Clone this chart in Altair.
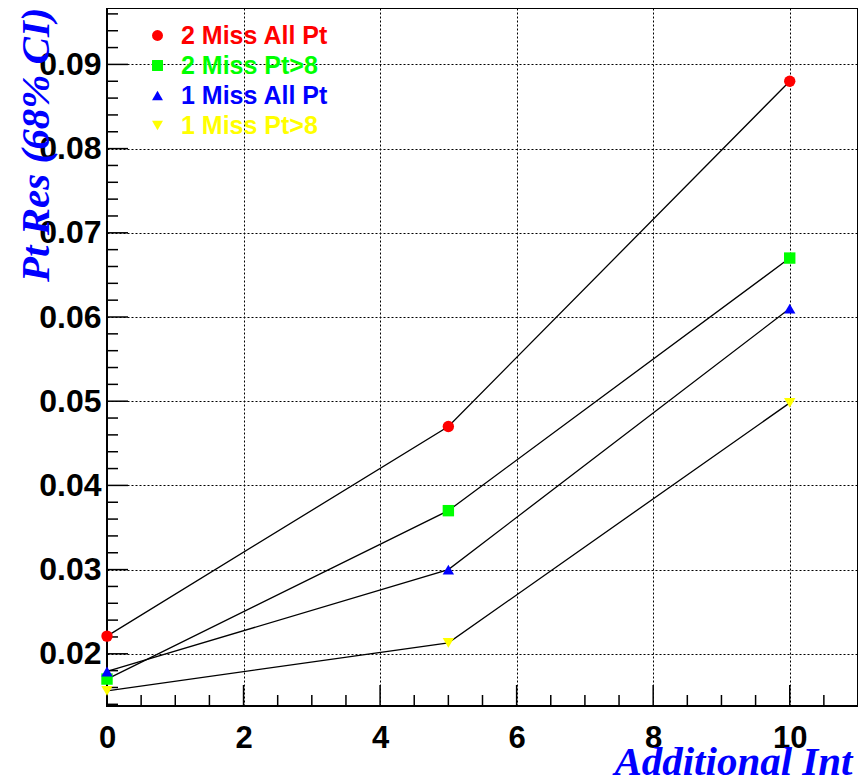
import altair as alt
import pandas as pd

series = ["2 Miss All Pt", "2 Miss Pt>8", "1 Miss All Pt", "1 Miss Pt>8"]
colors = ["#ff0000", "#00ff00", "#0000ff", "#ffff00"]
shapes = ["circle", "square", "triangle-up", "triangle-down"]
x_vals = [0, 5, 10]
res_2miss_all = [0.0221, 0.0470, 0.0880]
res_2miss_pt8 = [0.0170, 0.0370, 0.0670]
res_1miss_all = [0.0179, 0.0300, 0.0610]
res_1miss_pt8 = [0.0156, 0.0213, 0.0498]

x_major = [0, 2, 4, 6, 8, 10]
x_minor = [0.5, 1, 1.5, 2.5, 3, 3.5, 4.5, 5, 5.5, 6.5, 7, 7.5, 8.5, 9, 9.5, 10.5]
y_major = [0.02, 0.03, 0.04, 0.05, 0.06, 0.07, 0.08, 0.09]
y_minor = [0.014, 0.016, 0.018, 0.022, 0.024, 0.026, 0.028, 0.032, 0.034, 0.036,
           0.038, 0.042, 0.044, 0.046, 0.048, 0.052, 0.054, 0.056, 0.058, 0.062,
           0.064, 0.066, 0.068, 0.072, 0.074, 0.076, 0.078, 0.082, 0.084, 0.086,
           0.088, 0.092, 0.094, 0.096]

W, H = 751, 698
PAD_L = 99
XDOM = [0, 11]
YDOM = [0.0138, 0.0967]

rows = []
for name, vals in zip(series, [res_2miss_all, res_2miss_pt8, res_1miss_all, res_1miss_pt8]):
    for xv, yv in zip(x_vals, vals):
        rows.append({"series": name, "x": xv, "y": yv})
df = pd.DataFrame(rows)

xscale = alt.Scale(domain=XDOM, nice=False, zero=False)
yscale = alt.Scale(domain=YDOM, nice=False, zero=False)

xaxis = alt.Axis(
    values=x_major, grid=True, gridDash=[2, 2], gridColor="black", gridOpacity=1,
    gridWidth=1, ticks=False, tickSize=0, domain=False, labelFlush=False,
    labelFont="Liberation Sans", labelFontWeight="bold", labelFontSize=31,
    labelColor="black", labelPadding=17, format="d",
    title="Additional Int", titleFont="Liberation Serif", titleFontStyle="italic",
    titleFontWeight="bold", titleFontSize=41, titleColor="#0000ff",
    titleAlign="right", titleBaseline="alphabetic", titleX=W - 6, titleY=68,
)
yaxis = alt.Axis(
    values=y_major, grid=True, gridDash=[2, 2], gridColor="black", gridOpacity=1,
    gridWidth=1, ticks=False, tickSize=0, domain=False, format=".2f",
    labelFont="Liberation Sans", labelFontWeight="bold", labelFontSize=32,
    labelColor="black", labelPadding=6,
    title="Pt Res (68% CI)", titleFont="Liberation Serif", titleFontStyle="italic",
    titleFontWeight="bold", titleFontSize=41, titleColor="#0000ff",
    titleAlign="right", titleBaseline="alphabetic", titleX=-59, titleY=-1,
    titleAngle=270,
)

base = alt.Chart(df)

lines = base.mark_line(color="black", strokeWidth=1.3).encode(
    x=alt.X("x:Q", scale=xscale, axis=xaxis),
    y=alt.Y("y:Q", scale=yscale, axis=yaxis),
    detail="series:N",
)

label_color_expr = (
    "datum.label == '2 Miss All Pt' ? '#ff0000' : "
    "datum.label == '2 Miss Pt>8' ? '#00ff00' : "
    "datum.label == '1 Miss All Pt' ? '#0000ff' : '#ffff00'"
)

legend = alt.Legend(
    title=None, orient="none", legendX=38, legendY=15, padding=0,
    labelFont="Liberation Sans", labelFontWeight="bold", labelFontSize=25,
    labelColor={"expr": label_color_expr}, labelOffset=11, rowPadding=4,
    symbolSize=120, symbolStrokeWidth=0,
)

points = base.mark_point(filled=True, size=130, opacity=1).encode(
    x=alt.X("x:Q", scale=xscale),
    y=alt.Y("y:Q", scale=yscale),
    color=alt.Color("series:N", scale=alt.Scale(domain=series, range=colors), legend=legend),
    shape=alt.Shape("series:N", scale=alt.Scale(domain=series, range=shapes), legend=legend),
)

xmaj_t = alt.Chart(pd.DataFrame({"v": x_major})).mark_rule(color="black", strokeWidth=1.5).encode(
    x=alt.X("v:Q", scale=xscale), y=alt.value(H), y2=alt.value(H - 21))
xmin_t = alt.Chart(pd.DataFrame({"v": x_minor})).mark_rule(color="black", strokeWidth=1.5).encode(
    x=alt.X("v:Q", scale=xscale), y=alt.value(H), y2=alt.value(H - 11))
ymaj_t = alt.Chart(pd.DataFrame({"v": y_major})).mark_rule(color="black", strokeWidth=1.5).encode(
    y=alt.Y("v:Q", scale=yscale), x=alt.value(0), x2=alt.value(21))
ymin_t = alt.Chart(pd.DataFrame({"v": y_minor})).mark_rule(color="black", strokeWidth=1.5).encode(
    y=alt.Y("v:Q", scale=yscale), x=alt.value(0), x2=alt.value(11))

frame = alt.Chart(pd.DataFrame({"v": [0]})).mark_rect(
    fill=None, filled=False, stroke="black", strokeWidth=2).encode(
    x=alt.value(0), x2=alt.value(W), y=alt.value(0), y2=alt.value(H))

chart = alt.layer(lines, xmaj_t, xmin_t, ymaj_t, ymin_t, frame, points).properties(
    width=W, height=H,
    autosize=alt.AutoSizeParams(type="none"),
    padding={"left": PAD_L, "top": 0, "right": 0, "bottom": 77},
).configure_view(stroke=None).configure(background="white")

chart.save("out.html", embed_options={"renderer": "svg", "actions": False})
